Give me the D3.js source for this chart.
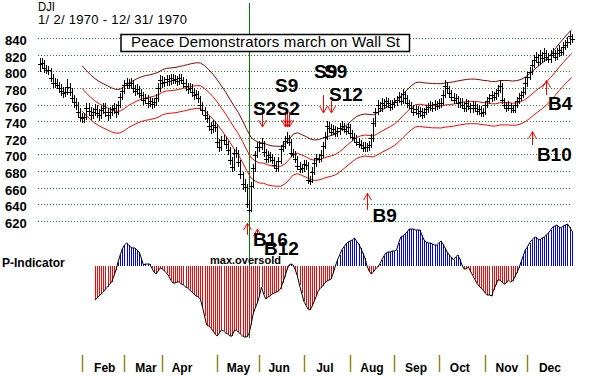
<!DOCTYPE html>
<html>
<head>
<meta charset="utf-8">
<script src="https://cdn.jsdelivr.net/npm/d3@7"></script>
<style>
  body { margin: 0; background: #fff; }
  svg { display: block; font-family: "Liberation Sans", Arial, sans-serif; }
</style>
</head>
<body>
<div id="chart"></div>
<script>
// daily DJI 1970, one value per trading day (index 0 = Jan 2)
const closes = [
  809,811,804,802,802,793,786,787,784,780, 777,775,776,782,776,768,764,760,752,746,
  744,746,757,753,748,752,755,750,748,754, 757,752,748,752,755,757,752,760,770,777,
  784,787,784,787,780,777,779,774,772,766, 768,763,765,761,764,768,780,790,787,788,
  791,789,792,790,791,789,792,790,787,783, 779,781,776,772,773,768,760,754,748,744,
  735,731,736,734,715,710,718,718,713,706, 694,685,702,702,691,677,665,662,641,634,
  663,684,700,710,710,714,703,695,700,697, 694,688,684,693,707,711,717,720,716,702,
  701,695,687,683,684,689,688,670,669,680, 690,696,695,700,711,722,735,733,728,731,
  726,729,733,735,731,729,734,726,722,720, 716,713,712,708,710,709,712,720,738,752,
  760,757,763,760,765,762,758,761,764,766, 770,765,773,768,762,760,756,752,755,750,
  753,748,752,755,758,760,757,761,759,762, 763,772,783,780,774,770,766,768,762,764,
  760,757,762,759,756,760,757,753,755,751, 752,760,765,768,772,770,774,778,783,766,
  760,757,760,756,754,760,765,769,772,776, 786,794,800,808,814,818,812,820,816,822,
  818,815,820,822,818,823,826,824,830,832, 836,843,839
];
const highs = [
  816,817,814,808,807,805,797,793,791,788, 785,782,782,791,786,780,772,768,764,757,
  751,751,763,762,758,757,761,760,755,759, 763,762,757,758,760,763,761,765,775,782,
  790,792,791,793,790,784,785,783,779,776, 773,772,770,769,769,773,786,796,795,794,
  796,796,797,797,796,795,797,797,794,791, 787,786,785,780,778,777,771,764,758,753,
  747,740,742,741,737,719,723,724,722,717, 709,697,707,709,706,694,680,671,665,646,
  668,689,705,716,717,720,717,707,705,704, 701,698,692,698,712,717,723,727,724,719,
  707,705,699,691,689,694,694,691,675,685, 695,701,701,706,716,727,741,740,737,736,
  735,734,738,741,739,735,739,737,730,726, 724,720,718,716,715,714,717,725,744,757,
  766,764,769,767,770,769,766,766,769,771, 776,774,779,777,772,766,764,760,760,759,
  758,757,757,760,763,765,764,766,765,767, 768,778,790,788,783,778,774,773,771,769,
  768,764,767,766,763,765,764,761,760,759, 757,765,770,773,777,776,779,784,790,786,
  769,764,765,763,760,765,770,774,777,782, 792,800,806,814,820,824,821,826,824,828,
  826,822,826,828,826,829,832,830,836,838, 842,849,846
];
const lows = [
  800,804,799,797,796,788,781,781,779,774, 771,769,770,772,771,763,757,754,746,740,
  738,739,742,747,742,743,747,744,741,743, 749,746,741,743,747,749,745,748,756,766,
  773,779,779,779,775,771,772,768,766,760, 761,757,758,755,756,759,764,776,781,782,
  783,783,784,785,785,783,784,785,781,777, 773,774,770,766,767,762,754,748,742,738,
  729,725,726,728,710,704,705,712,707,700, 688,679,681,696,685,671,658,655,636,630,
  632,660,680,696,704,706,698,690,690,692, 689,683,679,680,689,703,707,713,711,697,
  696,690,682,678,678,680,682,665,664,666, 676,686,690,691,696,707,718,728,723,724,
  721,722,724,729,726,724,725,721,717,715, 711,708,707,703,704,704,705,708,716,734,
  748,752,752,755,756,757,753,754,756,759, 762,760,761,763,757,755,751,747,748,745,
  746,743,744,748,751,753,752,753,754,755, 757,759,768,775,769,765,761,761,757,757,
  755,752,752,754,751,751,752,748,748,746, 746,748,756,761,764,765,766,770,774,761,
  755,752,753,751,750,750,756,761,765,768, 772,782,790,796,804,810,807,808,811,812,
  813,810,811,816,813,814,818,819,820,826, 828,832,834
];

// trading bands, every 2nd day from day 20
const bandStart = 20, bandStep = 2;
const bandMid = [
  779.9,774.3,769.3,765.1,761.6,759.0,756.6,754.1,752.5,752.8,
  755.8,759.6,762.3,765.0,767.0,768.5,769.4,770.6,772.3,775.4,
  776.9,777.4,777.9,779.0,780.1,781.3,782.5,783.4,783.2,780.0,
  775.4,770.0,763.7,756.5,749.3,741.2,733.0,725.6,716.1,706.0,
  696.8,692.9,690.5,690.1,688.1,686.8,686.5,686.3,689.1,694.3,
  700.4,702.1,700.0,697.8,695.0,693.7,694.1,695.8,697.6,698.8,
  700.6,703.8,708.3,712.6,716.9,721.0,722.9,724.0,723.4,723.0,
  725.5,728.6,731.3,734.1,737.2,741.7,746.9,752.1,756.8,760.3,
  761.0,760.1,759.7,759.2,759.2,759.0,760.0,760.6,761.2,762.3,
  763.2,764.0,764.4,764.4,763.9,763.0,762.6,761.5,761.5,762.8,
  762.8,762.8,762.2,762.7,764.1,766.8,770.7,775.0,779.1,783.1,
  787.5,793.1,799.0,805.4,811.1,816.9,821.7
];
const bandUpper = [
  807.2,801.4,796.2,791.9,788.3,785.6,783.1,780.5,778.8,779.1,
  782.3,786.2,789.0,791.8,793.8,795.4,796.3,797.6,799.3,802.5,
  804.1,804.6,805.1,806.3,807.4,808.6,809.9,810.8,810.6,807.3,
  802.5,797.0,790.4,783.0,775.5,767.1,758.7,751.0,741.2,730.7,
  721.2,717.2,714.7,714.3,712.2,710.8,710.5,710.3,713.2,718.6,
  724.9,726.7,724.5,722.2,719.3,718.0,718.4,720.2,722.0,723.3,
  725.1,728.4,733.1,737.5,742.0,746.2,748.2,749.3,748.7,748.3,
  750.9,754.1,756.9,759.8,763.0,767.7,773.0,778.4,783.3,786.9,
  787.6,786.7,786.3,785.8,785.8,785.6,786.6,787.2,787.8,789.0,
  789.9,790.7,791.2,791.2,790.6,789.7,789.3,788.2,788.2,789.5,
  789.5,789.5,788.9,789.4,790.8,793.6,797.7,802.1,806.4,810.5,
  815.1,820.9,827.0,833.6,839.5,845.5,850.5
];
const bandLower = [
  752.6,747.2,742.4,738.3,734.9,732.4,730.1,727.7,726.2,726.5,
  729.3,733.0,735.6,738.2,740.2,741.6,742.5,743.6,745.3,748.3,
  749.7,750.2,750.7,751.7,752.8,754.0,755.1,756.0,755.8,752.7,
  748.3,743.0,737.0,730.0,723.1,715.3,707.3,700.2,691.0,681.3,
  672.4,668.6,666.3,665.9,664.0,662.8,662.5,662.3,665.0,670.0,
  675.9,677.5,675.5,673.4,670.7,669.4,669.8,671.4,673.2,674.3,
  676.1,679.2,683.5,687.7,691.8,695.8,697.6,698.7,698.1,697.7,
  700.1,703.1,705.7,708.4,711.4,715.7,720.8,725.8,730.3,733.7,
  734.4,733.5,733.1,732.6,732.6,732.4,733.4,734.0,734.6,735.6,
  736.5,737.3,737.6,737.6,737.2,736.3,735.9,734.8,734.8,736.1,
  736.1,736.1,735.5,736.0,737.4,740.0,743.7,747.9,751.8,755.7,
  759.9,765.3,771.0,777.2,782.7,788.3,792.9
];

// P-Indicator, from day 26
const pStart = 26;
const pInd = [
  -34,-32,-30,-28,-26,-23,-21,-18,-16,-10, -4,4,11,17,21,23,21,19,18,18,
  16,14,8,1,2,2,2,-2,-6,-8, -5,-2,-3,-5,-7,-10,-14,-17,-17,-16,
  -16,-18,-19,-21,-22,-24,-26,-28,-30,-31, -33,-41,-50,-59,-60,-62,-65,-68,-70,-67,
  -64,-65,-67,-68,-70,-70,-65,-64,-66,-68, -70,-71,-71,-68,-59,-48,-42,-37,-30,-21,
  -28,-33,-31,-30,-28,-27,-26,-25,-23,-17, -11,-4,1,2,1,-4,-10,-19,-27,-35,
  -39,-43,-44,-40,-35,-30,-24,-22,-20,-17, -15,-14,-13,-7,0,6,11,16,19,22,
  24,25,26,28,25,22,18,13,8,0, -5,-8,-6,-3,-1,2,6,10,13,14,
  14,15,15,16,23,29,30,32,34,37, 37,37,36,36,36,31,26,24,23,23,
  22,21,21,23,25,22,18,14,11,9, 6,9,11,7,1,-3,-3,-1,-5,-9,
  -13,-17,-20,-22,-24,-27,-29,-29,-30,-24, -19,-14,-14,-16,-18,-17,-14,-16,-15,-11,
  -7,-2,4,10,16,19,23,26,28,29, 27,26,28,29,31,33,36,39,40,41,
  39,38,40,41,42,39,35
];

const priceTicks = [620, 640, 660, 680, 700, 720, 740, 760, 780, 800, 820, 840];
const months = ["Feb", "Mar", "Apr", "May", "Jun", "Jul", "Aug", "Sep", "Oct", "Nov", "Dec"];
const monthStart = [20, 40, 58, 84, 104, 125, 147, 168, 189, 211, 231];
const monthLabelAt = [30.7, 50.2, 67.3, 94.1, 113.3, 135, 157.3, 178.2, 199, 221.3, 241.7];

const eventDay = 99;
const eventText = "Peace Demonstrators march on Wall St";

// signal arrows: tail -> tip, in index units
const sigArrows = [
  { day: 105, from: 751.7, to: 733.6 },
  { day: 116, from: 751.7, to: 733.6 },
  { day: 117, from: 751.7, to: 733.6 },
  { day: 118, from: 751.7, to: 733.6 },
  { day: 134, from: 772, to: 750.5 },
  { day: 138, from: 765, to: 750.5 },
  { day: 98, from: 604, to: 618 },
  { day: 103, from: 604, to: 611 },
  { day: 155, from: 634, to: 654 },
  { day: 233, from: 712, to: 728 },
  { day: 240, from: 772, to: 789.5 }
];
const sigLabels = [
  { text: "S2", day: 100.9, at: 748.1 },
  { text: "S2", day: 112.1, at: 748.1 },
  { text: "S9", day: 111.4, at: 775.7 },
  { text: "S9", day: 129.9, at: 792.5 },
  { text: "S9", day: 134.6, at: 792.5 },
  { text: "S12", day: 137, at: 764.3 },
  { text: "B9", day: 157.6, at: 620 },
  { text: "B10", day: 235.5, at: 692.8 },
  { text: "B4", day: 240.8, at: 754.1 },
  { text: "B16", day: 100.9, at: 590.6 },
  { text: "B12", day: 106.2, at: 579.2 }
];

const width = 602, height = 377;

const svg = d3.select("#chart")
  .append("svg")
  .attr("width", width)
  .attr("height", height);

const x = d3.scaleLinear().domain([0, 252]).range([40, 571.7]);
const y = d3.scaleLinear().domain([620, 840]).range([221.5, 38.5]);
const p = d3.scaleLinear().domain([0, 40]).range([266, 226]);
const px = i => Math.round(x(i)) + 0.5;

// dotted grid
svg.append("g")
  .selectAll("line")
  .data(priceTicks)
  .join("line")
    .attr("x1", 38).attr("x2", 572)
    .attr("y1", d => Math.floor(y(d)) + 0.5)
    .attr("y2", d => Math.floor(y(d)) + 0.5)
    .attr("stroke", "#1f8a1f")
    .attr("stroke-dasharray", "1,2");

// price labels
svg.append("g")
  .selectAll("text")
  .data(priceTicks)
  .join("text")
    .attr("x", 5)
    .attr("y", d => y(d) + 6.5)
    .attr("font-size", "13px")
    .attr("font-weight", "bold")
    .text(d => d);

// event line
svg.append("line")
  .attr("x1", px(eventDay)).attr("x2", px(eventDay))
  .attr("y1", 3).attr("y2", 338)
  .attr("stroke", "#008000");

// bands
const bandLine = d3.line()
  .x((d, k) => x(bandStart + k * bandStep))
  .y(d => y(d));
[[bandUpper, "#900000"], [bandMid, "#ff0000"], [bandLower, "#ff0000"]].forEach(([arr, col]) => {
  svg.append("path")
    .datum(arr)
    .attr("d", bandLine)
    .attr("fill", "none")
    .attr("stroke", col)
    .attr("stroke-width", 1);
});

// high-low bars with close ticks
const bars = svg.append("g")
  .attr("stroke", "#000")
  .attr("shape-rendering", "crispEdges");
bars.selectAll("line.hl")
  .data(closes)
  .join("line")
    .attr("class", "hl")
    .attr("x1", (d, i) => px(i)).attr("x2", (d, i) => px(i))
    .attr("y1", (d, i) => y(highs[i]))
    .attr("y2", (d, i) => y(lows[i]));
bars.selectAll("line.cl")
  .data(closes)
  .join("line")
    .attr("class", "cl")
    .attr("x1", (d, i) => px(i) - 2.5).attr("x2", (d, i) => px(i) + 2.5)
    .attr("y1", d => Math.round(y(d)) + 0.5)
    .attr("y2", d => Math.round(y(d)) + 0.5);

// title box
svg.append("rect")
  .attr("x", 121).attr("y", 34.5)
  .attr("width", 288.5).attr("height", 17)
  .attr("fill", "#fff")
  .attr("stroke", "#000")
  .attr("stroke-width", 1.5);
svg.append("text")
  .attr("x", 131).attr("y", 47)
  .attr("font-size", "15px")
  .attr("textLength", 269)
  .attr("lengthAdjust", "spacing")
  .text(eventText);

// P-Indicator histogram
const pts = pInd.map((v, k) => ({ i: pStart + k, v: v }));
svg.append("g")
  .attr("shape-rendering", "crispEdges")
  .selectAll("line")
  .data(pts.filter(d => d.v !== 0))
  .join("line")
    .attr("x1", d => px(d.i)).attr("x2", d => px(d.i))
    .attr("y1", p(0))
    .attr("y2", d => p(d.v))
    .attr("stroke", d => d.v > 0 ? "#0000ff" : "#ff0000");
svg.append("path")
  .datum(pts)
  .attr("d", d3.line().x(d => x(d.i)).y(d => p(d.v)))
  .attr("fill", "none")
  .attr("stroke", "#000")
  .attr("stroke-width", 1);

// signal arrows
svg.append("g")
  .attr("stroke", "#ff0000")
  .attr("fill", "none")
  .selectAll("path")
  .data(sigArrows)
  .join("path")
    .attr("d", d => {
      const xx = px(d.day), y0 = y(d.from), y1 = y(d.to);
      const s = y1 > y0 ? -1 : 1;
      return `M${xx},${y0}L${xx},${y1}M${xx - 4},${y1 + s * 7}L${xx},${y1}L${xx + 4},${y1 + s * 7}`;
    });

// signal labels
svg.append("g")
  .selectAll("text")
  .data(sigLabels)
  .join("text")
    .attr("x", d => x(d.day))
    .attr("y", d => y(d.at))
    .attr("font-size", "19px")
    .attr("font-weight", "bold")
    .text(d => d.text);

svg.append("text")
  .attr("x", 210).attr("y", 264)
  .attr("font-size", "11px")
  .attr("font-weight", "bold")
  .text("max.oversold");

svg.append("text")
  .attr("x", 2).attr("y", 267)
  .attr("font-size", "12px")
  .attr("font-weight", "bold")
  .text("P-Indicator");

// month ticks + labels
svg.append("g")
  .selectAll("line")
  .data(monthStart)
  .join("line")
    .attr("x1", d => px(d)).attr("x2", d => px(d))
    .attr("y1", 355).attr("y2", 372)
    .attr("stroke", "#8a8a20")
    .attr("stroke-width", 1.5);
svg.append("g")
  .selectAll("text")
  .data(months)
  .join("text")
    .attr("x", (d, k) => x(monthLabelAt[k]))
    .attr("y", 371.5)
    .attr("text-anchor", "middle")
    .attr("font-size", "12px")
    .attr("font-weight", "bold")
    .text(d => d);

// header
svg.append("text")
  .attr("x", 38).attr("y", 11)
  .attr("font-size", "12px")
  .attr("textLength", 17)
  .attr("lengthAdjust", "spacingAndGlyphs")
  .text("DJI");
svg.append("text")
  .attr("x", 38).attr("y", 24)
  .attr("font-size", "13px")
  .attr("textLength", 149)
  .attr("lengthAdjust", "spacing")
  .text("1/ 2/ 1970 - 12/ 31/ 1970");
</script>
</body>
</html>
